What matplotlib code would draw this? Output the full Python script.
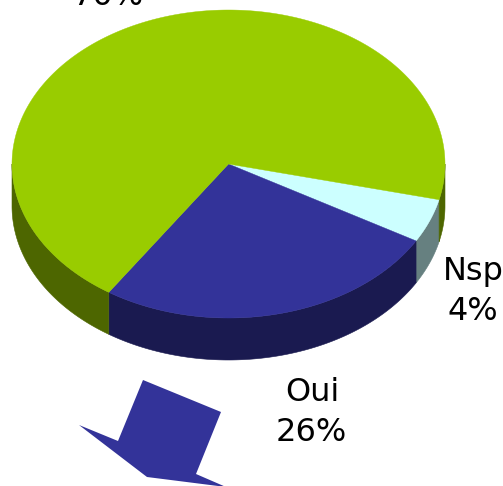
import numpy as np
import matplotlib
matplotlib.use("Agg")
import matplotlib.pyplot as plt
from matplotlib.patches import Polygon

categories = ["Nsp", "Oui", "Non"]
values = [4.6, 26.0, 69.4]
shown = ["4%", "26%", "70%"]
top_colors = ["#CCFFFF", "#333399", "#99CC00"]
side_colors = ["#668080", "#1A1A50", "#4D6600"]

W, H = 503, 486
CX, CY, RX, RY, DEPTH = 228.5, 164.0, 216.5, 154.0, 42.0
START = 13.4

fig = plt.figure(figsize=(W / 100, H / 100), dpi=100)
ax = fig.add_axes([0, 0, 1, 1])
ax.set_xlim(0, W)
ax.set_ylim(H, 0)
ax.axis("off")


def rim(t0, t1, dy=0.0):
    t = np.radians(np.linspace(t0, t1, max(int(abs(t1 - t0) * 2), 2)))
    return np.column_stack([CX + RX * np.cos(t), CY + dy + RY * np.sin(t)])


edges = START + np.concatenate([[0], np.cumsum(values)]) * 3.6

# side walls: only the front half (0..180 deg, and 360..540 wrapped) is visible
for i in range(len(values)):
    for lo, hi in [(0, 180), (360, 540)]:
        a, b = max(edges[i], lo), min(edges[i + 1], hi)
        if b > a:
            pts = np.vstack([rim(a, b), rim(b, a, DEPTH)])
            ax.add_patch(Polygon(pts, closed=True, fc=side_colors[i], ec=side_colors[i], lw=0.4))

# top faces
for i in range(len(values)):
    pts = np.vstack([[[CX, CY]], rim(edges[i], edges[i + 1])])
    ax.add_patch(Polygon(pts, closed=True, fc=top_colors[i], ec=top_colors[i], lw=0.3))

# decorative block arrow
arrow = [(143, 380), (221, 412), (196, 474), (226, 487), (147, 477), (79, 425), (118, 441)]
ax.add_patch(Polygon(arrow, closed=True, fc="#333399", ec="none", clip_on=True))

# labels
fs = 23
font = "DejaVu Sans"
ax.text(312, 401, categories[1], ha="center", va="baseline", fontsize=fs, family=font, color="black")
ax.text(311, 441, shown[1], ha="center", va="baseline", fontsize=fs, family=font, color="black")
ax.text(473, 280, categories[0], ha="center", va="baseline", fontsize=fs, family=font, color="black")
ax.text(473, 320, shown[0], ha="center", va="baseline", fontsize=fs, family=font, color="black")
ax.text(108, 5, shown[2], ha="center", va="baseline", fontsize=fs, family=font, color="black")

fig.savefig("out.png", dpi=100, facecolor="white")
